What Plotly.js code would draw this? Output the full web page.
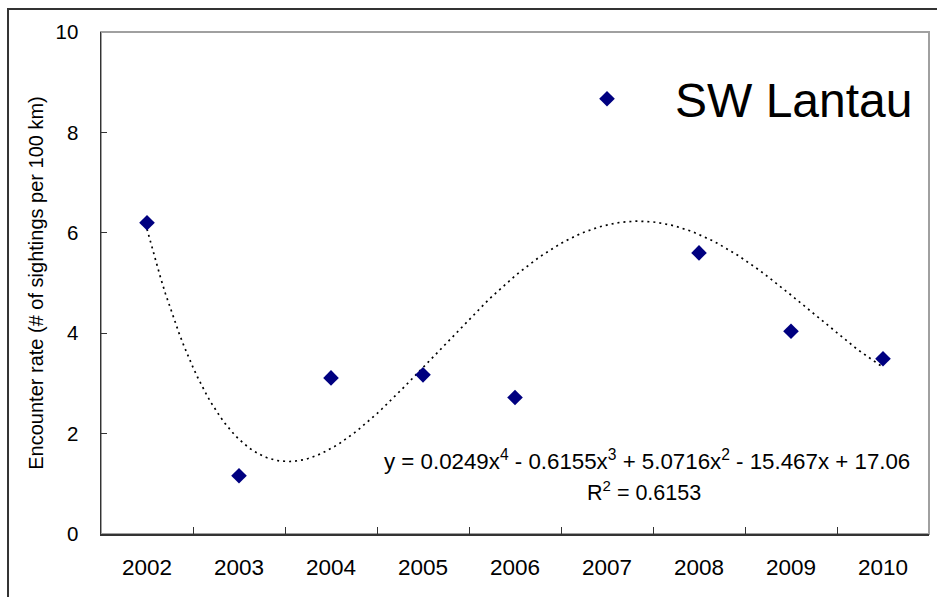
<!DOCTYPE html>
<html>
<head>
<meta charset="utf-8">
<script src="https://cdn.plot.ly/plotly-3.0.1.min.js"></script>
<style>
  html, body { margin: 0; padding: 0; background: #fff; }
  #chart { width: 937px; height: 597px; }
</style>
</head>
<body>
<div id="chart"></div>
<script>
// ---- data ----
var years = ['2002', '2003', '2004', '2005', '2006', '2007', '2008', '2009', '2010'];
var encounterRate = [6.20, 1.16, 3.11, 3.17, 2.72, null, 5.60, 4.04, 3.49];
// polynomial trendline coefficients shown on the chart (x^4 .. x^0)
var trendCoefs = [0.0249, -0.6155, 5.0716, -15.467, 17.06];
var equationText = 'y = 0.0249x<sup>4</sup> - 0.6155x<sup>3</sup> + 5.0716x<sup>2</sup> - 15.467x + 17.06';
var r2Text = 'R<sup>2</sup> = 0.6153';
var seriesName = 'SW Lantau';
var yTitle = 'Encounter rate (# of sightings per 100 km)';

// category index positions (1..n), as used by the trendline equation
var xIdx = years.map(function (_, i) { return i + 1; });
var boundaries = years.slice(0, -1).map(function (_, i) { return i + 1.5; });

// trendline evaluated from the displayed equation
function poly(x) {
  var v = 0;
  for (var k = 0; k < trendCoefs.length; k++) v = v * x + trendCoefs[k];
  return v;
}
var trendX = [], trendY = [];
for (var s = 0; s <= 160; s++) {
  var xv = 1 + s * (xIdx.length - 1) / 160;
  trendX.push(xv);
  trendY.push(poly(xv));
}

var FONT = 'Liberation Sans, Arial, sans-serif';

var traces = [
  {
    x: trendX, y: trendY, type: 'scatter', mode: 'lines',
    line: { color: '#000000', width: 1.7, dash: '2px,4px' },
    showlegend: false, hoverinfo: 'skip'
  },
  {
    x: xIdx, y: encounterRate, type: 'scatter', mode: 'markers',
    name: seriesName,
    marker: { symbol: 'diamond', size: 12, color: '#000080' },
    showlegend: true
  }
];

var layout = {
  width: 937, height: 597,
  margin: { l: 101, r: 8, t: 32, b: 63, pad: 0 },
  paper_bgcolor: '#ffffff', plot_bgcolor: '#ffffff',
  font: { family: FONT, color: '#000000' },
  showlegend: true,
  legend: {
    x: 0.529, xanchor: 'left', y: 0.8665, yanchor: 'middle',
    bgcolor: 'rgba(255,255,255,1)', borderwidth: 0,
    font: { family: FONT, size: 48, color: '#000000' },
    itemwidth: 126, itemsizing: 'trace'
  },
  xaxis: {
    type: 'linear', range: [0.5, 9.5],
    tickmode: 'array', tickvals: xIdx, ticktext: years,
    ticks: '', ticklabelstandoff: 12,
    tickfont: { family: FONT, size: 22.5, color: '#000000' },
    minor: { tickmode: 'array', tickvals: boundaries, ticks: 'inside', ticklen: 7, tickwidth: 1, tickcolor: '#333333', showgrid: false },
    showline: true, linecolor: '#333333', linewidth: 1.5,
    showgrid: false, zeroline: false, fixedrange: true
  },
  yaxis: {
    range: [0, 10], tickmode: 'linear', tick0: 0, dtick: 2,
    ticks: 'inside', ticklen: 6, tickwidth: 1, tickcolor: '#333333',
    ticklabelstandoff: 17,
    tickfont: { family: FONT, size: 20.5, color: '#000000' },
    showline: true, linecolor: '#333333', linewidth: 1.5,
    showgrid: false, zeroline: false, fixedrange: true,
    title: { text: yTitle, font: { family: FONT, size: 20, color: '#000000' }, standoff: 6 }
  },
  shapes: [
    { type: 'rect', xref: 'paper', yref: 'paper', x0: 0, x1: 1, y0: 0, y1: 1,
      line: { color: '#a0a0a0', width: 2 }, fillcolor: 'rgba(0,0,0,0)', layer: 'below' },
    { type: 'rect', xref: 'paper', yref: 'paper', x0: -0.1123, x1: 1.03, y0: -0.15, y1: 1.0458,
      line: { color: '#333333', width: 2 }, fillcolor: 'rgba(0,0,0,0)', layer: 'below' }
  ],
  annotations: [
    { xref: 'paper', yref: 'paper', x: 0.659, y: 0.1474, xanchor: 'center', yanchor: 'middle',
      text: equationText, showarrow: false, font: { family: FONT, size: 22.3, color: '#000000' } },
    { xref: 'paper', yref: 'paper', x: 0.656, y: 0.0857, xanchor: 'center', yanchor: 'middle',
      text: r2Text, showarrow: false, font: { family: FONT, size: 21.5, color: '#000000' } }
  ]
};

Plotly.newPlot('chart', traces, layout, { staticPlot: true, displayModeBar: false });
</script>
</body>
</html>
